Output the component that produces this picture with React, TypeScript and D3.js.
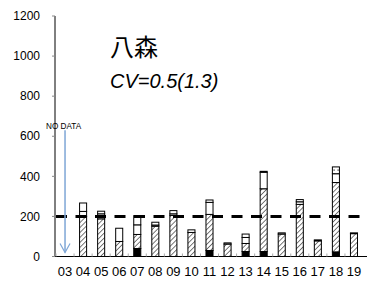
import * as d3 from "d3";

const categories = ["03", "04", "05", "06", "07", "08", "09", "10", "11", "12", "13", "14", "15", "16", "17", "18", "19"];
// stacked segments, bottom to top (03 = no data)
const solid = [0, 0, 0, 0, 40, 0, 0, 0, 30, 0, 25, 25, 0, 0, 0, 23, 0];
const hatched = [0, 200, 188, 75, 70, 151, 205, 120, 180, 62, 40, 313, 112, 260, 78, 346, 114];
const white1 = [0, 25, 25, 66, 48, 6, 8, 13, 60, 6, 30, 82, 6, 13, 5, 44, 4];
const white2 = [0, 42, 13, 0, 46, 14, 16, 0, 12, 0, 17, 5, 0, 11, 0, 0, 0];
const dotted = [0, 0, 0, 0, 0, 0, 0, 0, 0, 0, 0, 0, 0, 0, 0, 34, 0];
const yTicks = [0, 200, 400, 600, 800, 1000, 1200];
const refLine = 200;
const noDataTop = 630;

const W = 367;
const H = 282;
const font = "'Liberation Sans', Arial, sans-serif";

export default function App() {
  const keys = ["solid", "hatched", "white1", "white2", "dotted"];
  const rows = categories.map((c, i) => ({
    cat: c,
    solid: solid[i],
    hatched: hatched[i],
    white1: white1[i],
    white2: white2[i],
    dotted: dotted[i],
  }));
  const series = d3.stack<any>().keys(keys)(rows);

  const x = d3.scaleBand().domain(categories).range([56, 363]).paddingInner(0.61).paddingOuter(0.305);
  const y = d3.scaleLinear().domain([0, 1200]).range([256.5, 16]);
  const step = x.step();
  const fills: Record<string, string> = {
    solid: "#000",
    hatched: "url(#hatch)",
    white1: "#fff",
    white2: "#fff",
    dotted: "url(#dots)",
  };
  const noDataX = (x("03") ?? 0) + x.bandwidth() / 2;

  return (
    <svg width={W} height={H} style={{ position: "absolute", left: 0, top: 0, background: "#fff" }}>
      <defs>
        <pattern id="hatch" width="3.5" height="3.5" patternUnits="userSpaceOnUse" patternTransform="rotate(45)">
          <rect width="3.5" height="3.5" fill="#fff" />
          <line x1="0" y1="0" x2="0" y2="3.5" stroke="#333" strokeWidth="1.3" />
        </pattern>
        <pattern id="dots" width="4" height="4" patternUnits="userSpaceOnUse">
          <rect width="4" height="4" fill="#fff" />
          <rect x="1.5" y="1.5" width="1.2" height="1.2" fill="#222" />
        </pattern>
      </defs>

      {/* y axis */}
      <line x1={55} x2={55} y1={y(1200)} y2={y(0)} stroke="#000" />
      {yTicks.map((t) => (
        <g key={t}>
          <line x1={52} x2={55} y1={y(t)} y2={y(t)} stroke="#888" />
          <text x={40} y={y(t)} dy="0.35em" textAnchor="end" fontSize={12} fontFamily={font} fill="#000">
            {t}
          </text>
        </g>
      ))}

      {/* bars */}
      {series.map((s) => (
        <g key={s.key}>
          {s.map((d, i) => {
            const h = y(d[0]) - y(d[1]);
            if (h <= 0) return null;
            return (
              <rect
                key={i}
                x={x(categories[i])}
                y={y(d[1])}
                width={x.bandwidth()}
                height={h}
                fill={fills[s.key]}
                stroke="#000"
                strokeWidth={1}
              />
            );
          })}
        </g>
      ))}

      {/* reference line */}
      <line
        x1={56}
        x2={W}
        y1={y(refLine)}
        y2={y(refLine)}
        stroke="#000"
        strokeWidth={3}
        strokeDasharray="11 8.5"
      />

      {/* x axis */}
      <line x1={55} x2={W} y1={y(0)} y2={y(0)} stroke="#000" />
      {categories.map((c) => (
        <g key={c}>
          <line
            x1={(x(c) ?? 0) - (step - x.bandwidth()) / 2}
            x2={(x(c) ?? 0) - (step - x.bandwidth()) / 2}
            y1={y(0) - 3}
            y2={y(0)}
            stroke="#aaa"
          />
          <text
            x={(x(c) ?? 0) + x.bandwidth() / 2}
            y={276}
            textAnchor="middle"
            fontSize={13}
            fontFamily={font}
            fill="#000"
          >
            {c}
          </text>
        </g>
      ))}

      {/* no data marker */}
      <text x={46} y={129} fontSize={8.2} fontFamily={font} fill="#000">
        NO  DATA
      </text>
      <line x1={noDataX} x2={noDataX} y1={y(noDataTop)} y2={y(0) - 4} stroke="#7ea6d6" strokeWidth={1.5} />
      <path
        d={`M${noDataX - 5},${y(0) - 13} L${noDataX},${y(0) - 4} L${noDataX + 5},${y(0) - 13}`}
        fill="none"
        stroke="#7ea6d6"
        strokeWidth={1.2}
      />

      {/* title */}
      <text x={110} y={56} fontSize={24} fontFamily="'Noto Sans CJK JP', sans-serif" fill="#000">
        八森
      </text>
      <text x={110} y={88} fontSize={20} fontStyle="italic" fontFamily={font} fill="#000">
        CV=0.5(1.3)
      </text>
    </svg>
  );
}
